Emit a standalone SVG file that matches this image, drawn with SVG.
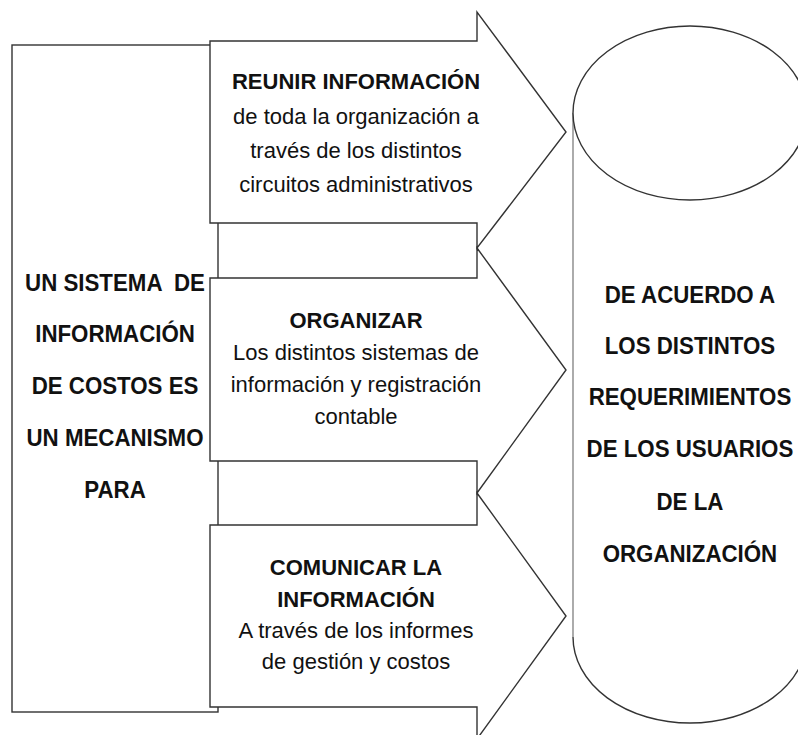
<svg xmlns="http://www.w3.org/2000/svg" width="798" height="735" viewBox="0 0 798 735">
<style>
.shape{fill:#fff;stroke:#333;stroke-width:1.4;stroke-linejoin:miter}
.big{font-family:"Liberation Sans",Arial,sans-serif;font-weight:bold;font-size:24.5px;fill:#111;text-anchor:middle}
.h{font-family:"Liberation Sans",Arial,sans-serif;font-weight:bold;font-size:22px;fill:#111;text-anchor:middle}
.t{font-family:"Liberation Sans",Arial,sans-serif;font-size:22px;fill:#111;text-anchor:middle}
</style>
<rect width="798" height="735" fill="#fff"/>
<g id="sistema">
<rect class="shape" x="12" y="45" width="206" height="667"/>
<g transform="scale(0.91,1)">
<text class="big" x="126.4" y="291" xml:space="preserve">UN SISTEMA  DE</text>
<text class="big" x="126.4" y="342">INFORMACIÓN</text>
<text class="big" x="126.4" y="394">DE COSTOS ES</text>
<text class="big" x="126.4" y="446">UN MECANISMO</text>
<text class="big" x="126.4" y="498">PARA</text>
</g>
</g>
<g id="reunir">
<polygon class="shape" points="210,41 477,41 477,12 566,132 477,248 477,223 210,223"/>
<text class="h" x="356" y="89">REUNIR INFORMACIÓN</text>
<text class="t" x="356" y="124">de toda la organización a</text>
<text class="t" x="356" y="158">través de los distintos</text>
<text class="t" x="356" y="192">circuitos administrativos</text>
</g>
<g id="organizar">
<polygon class="shape" points="210,278 477,278 477,248 566,370 477,493 477,461 210,461"/>
<text class="h" x="356" y="328">ORGANIZAR</text>
<text class="t" x="356" y="360">Los distintos sistemas de</text>
<text class="t" x="356" y="392">información y registración</text>
<text class="t" x="356" y="424">contable</text>
</g>
<g id="comunicar">
<polygon class="shape" points="210,525 477,525 477,493 566,616 477,739 477,707 210,707"/>
<text class="h" x="356" y="575">COMUNICAR LA</text>
<text class="h" x="356" y="607">INFORMACIÓN</text>
<text class="t" x="356" y="638">A través de los informes</text>
<text class="t" x="356" y="669">de gestión y costos</text>
</g>
<g id="usuarios">
<path d="M573,113 L573,637 A117,86 0 0 0 807,637 L807,113 Z" fill="#fff" stroke="none"/>
<path d="M573,113 L573,637" fill="none" stroke="#888" stroke-width="1.4"/>
<path d="M573,637 A117,86 0 0 0 807,637" fill="none" stroke="#333" stroke-width="1.4"/>
<ellipse class="shape" cx="690" cy="113" rx="117" ry="87"/>
<g transform="scale(0.91,1)">
<text class="big" x="758.2" y="303">DE ACUERDO A</text>
<text class="big" x="758.2" y="354">LOS DISTINTOS</text>
<text class="big" x="758.2" y="405">REQUERIMIENTOS</text>
<text class="big" x="758.2" y="457">DE LOS USUARIOS</text>
<text class="big" x="758.2" y="510">DE LA</text>
<text class="big" x="758.2" y="562">ORGANIZACIÓN</text>
</g>
</g>
<g id="connectors"></g>
</svg>
